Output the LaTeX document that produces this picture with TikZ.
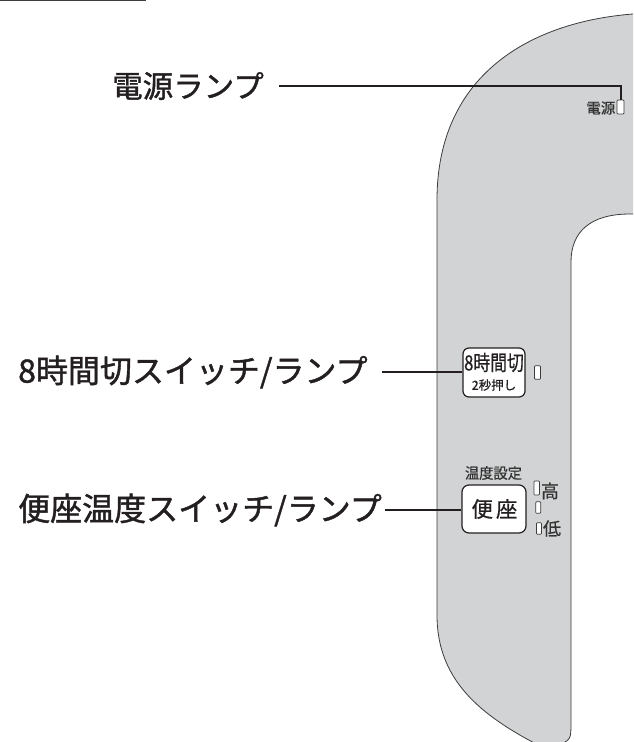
\documentclass[tikz,border=0pt]{standalone}
\usepackage{fontspec}
\newfontfamily\jp{Noto Sans CJK JP}
\newfontfamily\jpb[FakeBold=1.3]{Noto Sans CJK JP}
\newfontfamily\jpm[FakeBold=0.6]{Noto Sans CJK JP}
\definecolor{panel}{HTML}{D1D3D4}
\definecolor{ink}{HTML}{231F20}
\definecolor{edge}{HTML}{3C3C3C}
\definecolor{small}{HTML}{333333}
\begin{document}
\begin{tikzpicture}[x=1pt,y=-1pt,
  lbl/.style={inner sep=0pt, text=ink, font=\jpb\fontsize{32}{32}\selectfont},
  leader/.style={draw=ink, line width=2pt},
  lamp/.style={draw=edge, fill=white, inner sep=0pt, line width=0.7pt, rounded corners=0.8pt},
  btn/.style={draw=ink, fill=white, inner sep=0pt, line width=1.2pt, rounded corners=6pt},
  ptxt/.style={inner sep=0pt, text=small}]
\useasboundingbox (0,0) rectangle (633,742);
\begin{scope}
\clip (0,0) rectangle (633,742);
\draw[fill=panel, draw=edge, line width=0.8pt]
  (633,14) .. controls (530,22) and (437,75) .. (437,200)
  -- (437,615) .. controls (437,680) and (480,715) .. (540,746)
  -- (556,746) .. controls (571,740) .. (571,722)
  -- (571,262) .. controls (571,232) and (590,214) .. (630,214)
  -- (645,214) -- (645,12) -- cycle;
\draw[draw=edge, line width=2.4pt] (0,0) -- (146,0);
\end{scope}

% power lamp
\node[lbl, anchor=west, font=\jpb\fontsize{30.5}{30.5}\selectfont] (power) at (112,86) {電源ランプ};
\node[lamp, minimum width=7pt, minimum height=14pt] (pl) at (620.5,107) {};
\node[ptxt, anchor=east, font=\jpm\fontsize{14.5}{14.5}\selectfont] (pltxt) at (615.5,108) {電源};
\draw[leader] ([xshift=15pt]power.east) -- (power.east -| pl.north) -- (pl.north);

% 8 hour switch
\node[lbl, anchor=west] (l8) at (18,372) {8時間切スイッチ/ランプ};
\node[btn, minimum width=62pt, minimum height=49pt] (b8) at (494,372.5) {};
\node[inner sep=0pt, text=ink, font=\jpm\fontsize{21}{21}\selectfont] (b8a) at (494,362.5) {\scalebox{0.8}[1]{8時間切}};
\node[inner sep=0pt, text=ink, font=\jpm\fontsize{12.5}{12.5}\selectfont] (b8b) at (494,385) {2秒押し};
\node[lamp, minimum width=6pt, minimum height=13.5pt] (lp8) at (537.5,372.5) {};
\draw[leader] ([xshift=14pt]l8.east) -- (l8.east -| b8.west);

% seat temperature switch
\node[lbl, anchor=west] (ls) at (18,510) {便座温度スイッチ/ランプ};
\node[btn, minimum width=64pt, minimum height=48pt, rounded corners=7pt] (bs) at (494,509) {};
\node[inner sep=0pt, text=ink, font=\jpm\fontsize{21.5}{21.5}\selectfont] (bsa) at (494.5,509) {便\hspace{3pt}座};
\node[ptxt, font=\jpm\fontsize{15}{15}\selectfont] (temp) at (493.5,473) {\scalebox{0.95}[1]{温度設定}};
\node[lamp, minimum width=5.5pt, minimum height=14pt] (lh) at (536.7,488) {};
\node[lamp, minimum width=5pt, minimum height=11.5pt] (lm) at (538.2,507.5) {};
\node[lamp, minimum width=5pt, minimum height=11.5pt] (ll) at (539,528.5) {};
\node[ptxt, font=\jpm\fontsize{18}{18}\selectfont] (hi) at (550,491) {高};
\node[ptxt, font=\jpm\fontsize{18}{18}\selectfont] (lo) at (552,528.5) {低};
\draw[leader] ([xshift=3pt]ls.east) -- (ls.east -| bs.west);
\end{tikzpicture}
\end{document}
